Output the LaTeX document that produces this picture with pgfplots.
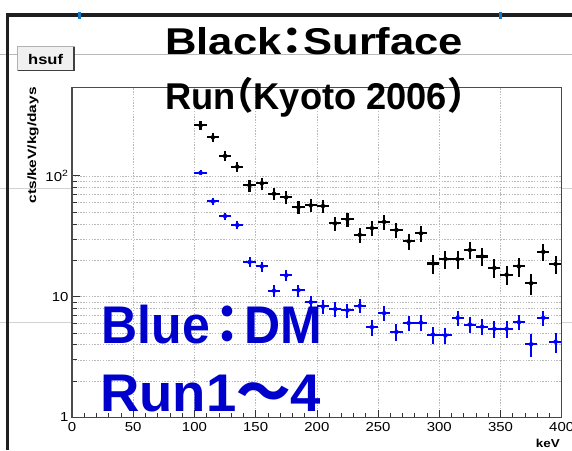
\documentclass[border=0pt]{standalone}
\usepackage{pgfplots}
\usepackage{pgfplotstable}
\pgfplotsset{compat=1.18}
\usepackage{graphicx}
\usepackage{fontspec}
\setmainfont{Liberation Sans}
\newfontfamily\cjk{Noto Sans CJK JP}
\definecolor{frameb}{HTML}{7A3030}
\definecolor{txtblue}{HTML}{0000CC}
\definecolor{ptblue}{HTML}{0000FF}
\newcommand\tl[1]{\scalebox{1.15}[1]{#1}}

\pgfplotstableread{
x y ey
105 261 20.7
115 208 17.6
125 146 13.7
135 119 11.9
145 83.3 9.3
155 86.5 9.5
165 71.0 8.3
175 66.3 7.9
185 54.8 6.9
195 56.9 7.1
205 56.2 7.0
215 40.4 5.6
225 43.6 5.9
235 32.5 4.8
245 36.9 5.2
255 41.6 5.7
265 35.6 5.1
275 28.7 4.4
285 33.4 4.9
295 18.8 3.3
305 20.5 3.5
315 20.4 3.5
325 24.3 3.9
335 21.5 3.6
345 17.3 3.1
355 15.2 2.8
365 17.8 3.2
375 12.9 2.5
385 23.5 3.8
395 18.6 3.3
}\surfdata

\pgfplotstableread{
x y ey
105 105.9 5.2
115 61.4 3.7
125 46.4 3.1
135 39.1 2.8
145 19.3 1.8
155 17.8 1.7
165 11.2 1.3
175 15.0 1.55
185 11.3 1.3
195 9.0 1.13
205 8.3 1.08
215 7.9 1.05
225 7.7 1.03
235 8.4 1.09
245 5.6 0.84
255 7.3 0.99
265 5.1 0.80
275 6.05 0.89
285 6.1 0.89
295 4.86 0.77
305 4.78 0.76
315 6.68 0.95
325 5.88 0.87
335 5.64 0.85
345 5.42 0.83
355 5.42 0.83
365 6.14 0.89
375 4.04 0.85
385 6.69 0.95
395 4.24 0.80
}\dmdata

\begin{document}
\begin{tikzpicture}[x=1pt,y=1pt]
\path[use as bounding box, fill=white] (0,0) rectangle (572,450);
% slide guide lines
\draw[gray!55, line width=0.8pt] (0,395.7) -- (572,395.7);
\draw[gray!35, line width=0.8pt] (0,261.7) -- (72,261.7);
\draw[gray!35, line width=0.8pt] (562,261.7) -- (572,261.7);
\draw[gray!35, line width=0.8pt] (0,127.3) -- (72,127.3);
\draw[gray!35, line width=0.8pt] (562,127.3) -- (572,127.3);
% canvas border
\fill[black!88] (6,432.7) rectangle (572,436.7);
\fill[black!88] (6,0) rectangle (9.2,436.7);
\fill[cyan!60!blue] (78,431) rectangle (80.5,437.5);
\fill[cyan!60!blue] (499,431) rectangle (501.5,437.5);
% hsuf box
\draw[fill=gray!12, draw=gray!60, line width=0.6pt] (17.3,379.3) rectangle (74,403.3);
\draw[black!75, line width=1.3pt] (18,379.3) -- (74,379.3) -- (74,402.5);
\node[inner sep=0] at (45.6,390.8) {\bfseries\fontsize{14}{14}\selectfont\scalebox{1.18}[1]{hsuf}};

\begin{axis}[
  at={(72pt,32.5pt)}, anchor=south west,
  width=489.7pt, height=330.2pt, scale only axis,
  clip=false,
  xmin=0, xmax=400,
  ymode=log, ymin=1, ymax=540,
  axis line style={draw=none},
  xtick={0,50,...,400},
  xticklabels={\tl{0},\tl{50},\tl{100},\tl{150},\tl{200},\tl{250},\tl{300},\tl{350},\tl{400}},
  minor x tick num=4,
  ytick={1,10,100},
  yticklabels={\tl{1},\tl{10},\tl{10\textsuperscript{2}}},
  xtick pos=left, ytick pos=left,
  tick align=inside,
  major tick length=8pt, minor tick length=4.5pt,
  tick style={black!80, line width=0.7pt},
  tick label style={font=\fontsize{13}{13}\selectfont},
  xticklabel style={yshift=-1pt},
  xmajorgrids, ymajorgrids, yminorgrids,
  grid style={gray!55, line width=0.6pt, dash pattern=on 1.4pt off 1.4pt},
]
\addplot[black, only marks, mark=none,
  error bars/.cd, x dir=both, x fixed=5, y dir=both, y explicit,
  error mark=none, error bar style={line width=2.1pt, black}]
  table[x=x, y=y, y error=ey] {\surfdata};
\addplot[ptblue, only marks, mark=none,
  error bars/.cd, x dir=both, x fixed=5, y dir=both, y explicit,
  error mark=none, error bar style={line width=2pt, ptblue}]
  table[x=x, y=y, y error=ey] {\dmdata};
\draw[black!70, line width=1.2pt] (rel axis cs:0,0) -- (rel axis cs:0,1) -- (rel axis cs:1,1);
\draw[frameb, line width=1.3pt] (rel axis cs:0,0) -- (rel axis cs:1,0) -- (rel axis cs:1,1);
\end{axis}

% axis titles
\node[rotate=90, anchor=base east, inner sep=0] at (36,363) {\bfseries\fontsize{12}{12}\selectfont\scalebox{1.29}[1]{cts/keV/kg/days}};
\node[anchor=base east, inner sep=0] at (560,3) {\bfseries\fontsize{11.5}{11.5}\selectfont\scalebox{1.17}[1]{keV}};

% title
\node[anchor=base west, inner sep=0] at (165,395) {\resizebox{298pt}{\height}{\fontsize{37.3}{37.3}\selectfont\bfseries Black\makebox[0.5em]{\cjk ：}Surface}};
\node[anchor=base west, inner sep=0] at (165,340) {\resizebox{300pt}{\height}{\fontsize{37.3}{37.3}\selectfont\bfseries Run\makebox[0.5em][r]{\cjk （}Kyoto 2006\makebox[0.5em][l]{\cjk ）}}};

% blue annotation
\node[anchor=base west, inner sep=0, text=txtblue] at (101.7,106.7) {\resizebox{220pt}{\height}{\fontsize{53}{53}\selectfont\bfseries Blue\makebox[0.68em]{\cjk ：}DM}};
\node[anchor=base west, inner sep=0, text=txtblue] at (100,39) {\resizebox{221pt}{\height}{\fontsize{53}{53}\selectfont\bfseries Run1{\cjk ～}4}};
\end{tikzpicture}
\end{document}
